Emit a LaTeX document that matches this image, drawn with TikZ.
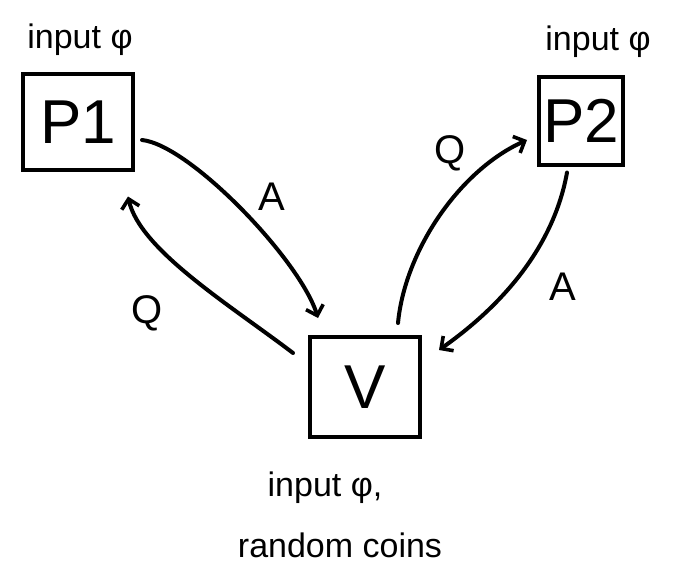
\documentclass[tikz,border=0pt]{standalone}
\usepackage{fontspec}
\setmainfont{Liberation Sans}
\usetikzlibrary{arrows.meta}
\begin{document}
\begin{tikzpicture}[x=1pt,y=-1pt,
  box/.style={draw,line width=4pt,inner sep=0pt,font=\fontsize{62}{62}\selectfont},
  conn/.style={line width=4pt,line cap=round,-{Straight Barb[length=9pt,width=18pt,line width=3.6pt]}},
  lbl/.style={font=\fontsize{40}{42}\selectfont},
  note/.style={font=\fontsize{34}{36}\selectfont}]
\useasboundingbox (0,0) rectangle (678,586);
\node[box,minimum width=110pt,minimum height=95pt] (P1) at (78,122) {P1};
\node[box,minimum width=84pt,minimum height=87pt] (P2) at (581,121) {P2};
\node[box,minimum width=110pt,minimum height=100pt] (V) at (365,387) {V};
\node[note] (inp1) at (80,40) {input φ};
\node[note] (inp2) at (598,42) {input φ};
\node[note] (inpv) at (325,488) {input φ,};
\node[note] (coins) at (340,545) {random coins};
\draw[conn] ([shift={(7,18)}]P1.east) .. controls (190,145) and (300,260) .. ([shift={(-47,-17)}]V.north);
\draw[conn] ([shift={(-15,18)}]V.north west) .. controls (230,305) and (140,250) .. ([shift={(50,25)}]P1.south);
\draw[conn] ([shift={(33,-12)}]V.north) .. controls (405,250) and (460,170) .. ([shift={(-10,19)}]P2.west);
\draw[conn] ([shift={(-14,6)}]P2.south) .. controls (555,240) and (510,300) .. ([shift={(17,-37)}]V.east);
\node[lbl] (a1) at (272,197) {A};
\node[lbl] (q1) at (147,313) {Q};
\node[lbl] (q2) at (450,153) {Q};
\node[lbl] (a2) at (563,287) {A};
\end{tikzpicture}
\end{document}
